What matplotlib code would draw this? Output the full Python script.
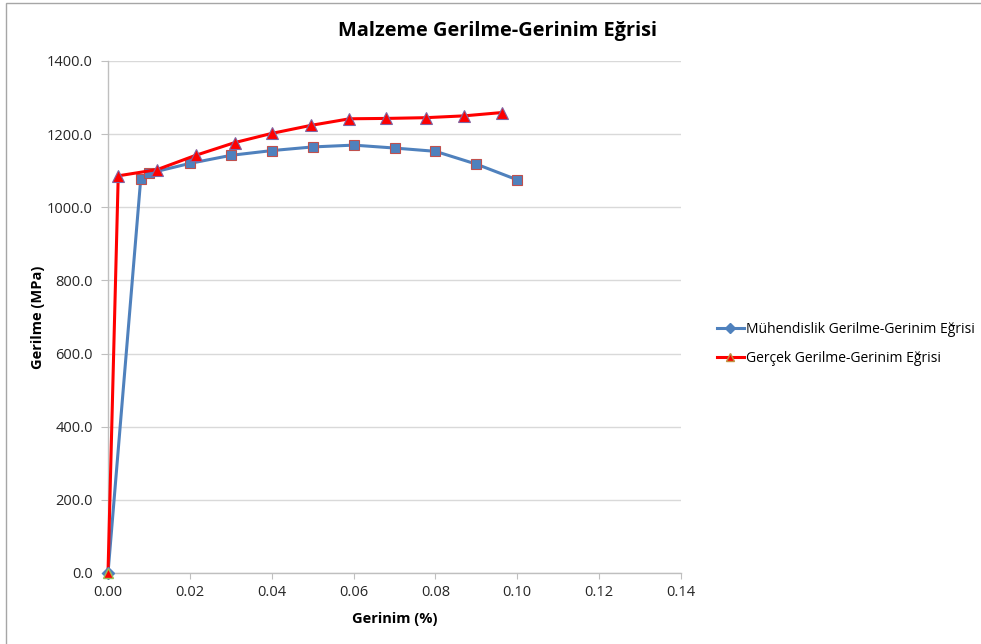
import matplotlib.pyplot as plt
from matplotlib.lines import Line2D
from matplotlib.patches import Rectangle
from matplotlib.ticker import FormatStrFormatter, MultipleLocator

plt.rcParams['font.family'] = ['Open Sans', 'DejaVu Sans']

# engineering curve
eng_strain = [0.0, 0.008, 0.010, 0.020, 0.030, 0.040, 0.050, 0.060, 0.070, 0.080, 0.090, 0.100]
eng_stress = [0.0, 1078, 1093, 1120, 1142, 1155, 1165, 1170, 1162, 1153, 1118, 1075]

# true curve
true_strain = [0.0, 0.0025, 0.012, 0.0214, 0.031, 0.040, 0.0496, 0.059, 0.068, 0.0776, 0.087, 0.0962]
true_stress = [0.0, 1086, 1103, 1142, 1177, 1202, 1224, 1242, 1243, 1245, 1250, 1259]

eng_name = 'Mühendislik Gerilme-Gerinim Eğrisi'
true_name = 'Gerçek Gerilme-Gerinim Eğrisi'

blue = '#4f81bd'
red = '#ff0000'
grid_col = '#d9d9d9'
axis_col = '#bfbfbf'

fig = plt.figure(figsize=(9.81, 6.44), dpi=100)
ax = fig.add_axes([108 / 981, 1 - 573 / 644, (681 - 108) / 981, (573 - 61) / 644])

# chart frame
fig.patches.append(Rectangle((6 / 981, -0.1), 1.2, 1 - 3 / 644 + 0.1, transform=fig.transFigure,
                             fill=False, edgecolor='#a6a6a6', linewidth=1.0))

rest = range(1, len(eng_strain))
ax.plot(eng_strain, eng_stress, color=blue, linewidth=2.2, marker='s', markersize=7.5,
        markevery=rest, markerfacecolor=blue, markeredgecolor='#c0504d',
        markeredgewidth=0.8, zorder=3, clip_on=False)
ax.plot(true_strain, true_stress, color=red, linewidth=2.2, marker='^', markersize=8.5,
        markevery=rest, markerfacecolor=red, markeredgecolor='#8064a2',
        markeredgewidth=0.8, zorder=4, clip_on=False)

# first points carry their own marker style
ax.plot(eng_strain[:1], eng_stress[:1], linestyle='none', marker='D', markersize=6,
        markerfacecolor=blue, markeredgecolor=blue, zorder=5, clip_on=False)
ax.plot(true_strain[:1], true_stress[:1], linestyle='none', marker='^', markersize=7.5,
        markerfacecolor=red, markeredgecolor='#9bbb59', markeredgewidth=1.0, zorder=6,
        clip_on=False)

ax.set_xlim(0, 0.14)
ax.set_ylim(0, 1400)
ax.xaxis.set_major_locator(MultipleLocator(0.02))
ax.yaxis.set_major_locator(MultipleLocator(200))
ax.xaxis.set_major_formatter(FormatStrFormatter('%.2f'))
ax.yaxis.set_major_formatter(FormatStrFormatter('%.1f'))
ax.grid(axis='y', color=grid_col, linewidth=1.0)
ax.set_axisbelow(True)

for side in ('top', 'right'):
    ax.spines[side].set_visible(False)
for side in ('left', 'bottom'):
    ax.spines[side].set_color(axis_col)
    ax.spines[side].set_linewidth(1.0)
ax.tick_params(axis='x', direction='out', length=4, color=axis_col, labelsize=10.5,
               labelcolor='#262626', pad=5)
ax.tick_params(axis='y', direction='out', length=5, color=axis_col, labelsize=10.5,
               labelcolor='#262626', pad=6)

ax.set_xlabel('Gerinim (%)', fontsize=10.5, fontweight='bold', labelpad=8)
ax.set_ylabel('Gerilme (MPa)', fontsize=10.5, fontweight='bold', labelpad=1)

fig.text(498 / 981, 1 - 31 / 644, 'Malzeme Gerilme-Gerinim Eğrisi', fontsize=14.4,
         fontweight='bold', ha='center', va='center')

handles = [
    Line2D([], [], color=blue, linewidth=2.2, marker='D', markersize=5,
           markerfacecolor=blue, markeredgecolor=blue),
    Line2D([], [], color=red, linewidth=2.2, marker='^', markersize=6,
           markerfacecolor=red, markeredgecolor='#c09040'),
]
fig.legend(handles, [eng_name, true_name], loc='center left',
           bbox_to_anchor=(704 / 981, 1 - 344 / 644), frameon=False, fontsize=10,
           handlelength=2.0, handletextpad=0.1, labelspacing=1.0)

fig.savefig('out.png', dpi=100, facecolor='white')
